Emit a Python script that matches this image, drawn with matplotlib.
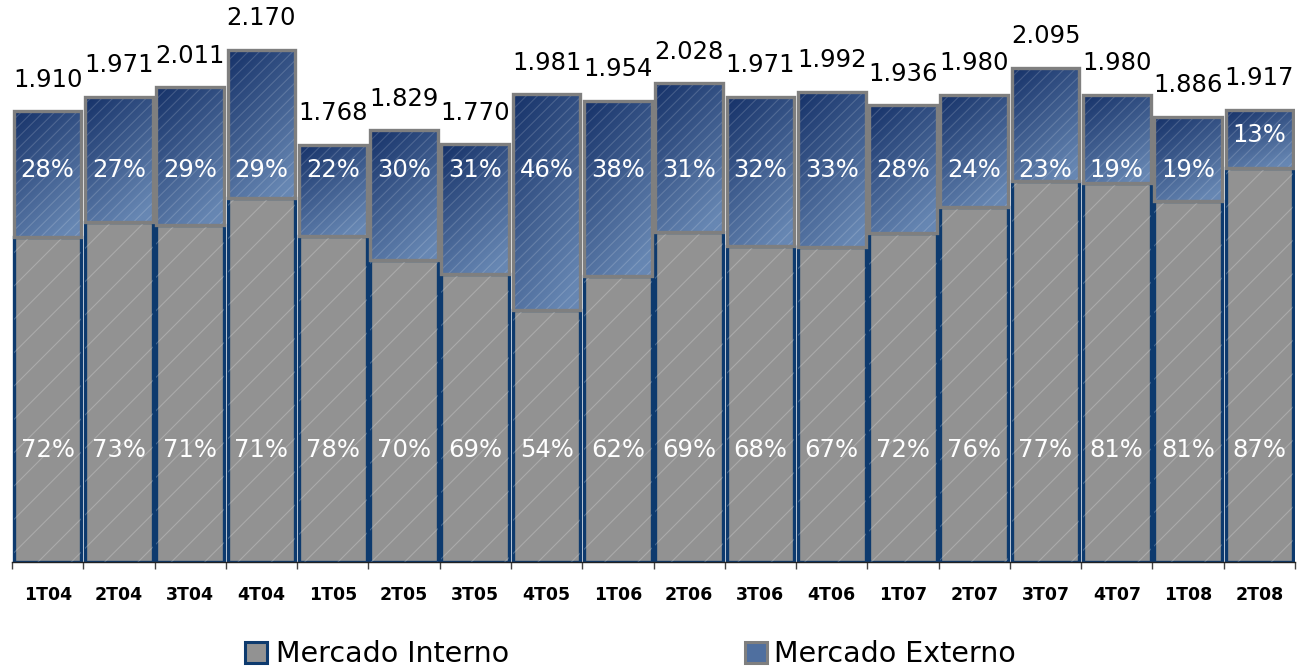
import numpy as np
import matplotlib
matplotlib.use("Agg")
import matplotlib.pyplot as plt
from matplotlib.patches import Rectangle
from matplotlib.colors import to_rgb

categories = ["1T04", "2T04", "3T04", "4T04", "1T05", "2T05", "3T05", "4T05", "1T06",
              "2T06", "3T06", "4T06", "1T07", "2T07", "3T07", "4T07", "1T08", "2T08"]
totals = [1910, 1971, 2011, 2170, 1768, 1829, 1770, 1981, 1954,
          2028, 1971, 1992, 1936, 1980, 2095, 1980, 1886, 1917]
interno_pct = [72, 73, 71, 71, 78, 70, 69, 54, 62, 69, 68, 67, 72, 76, 77, 81, 81, 87]
externo_pct = [28, 27, 29, 29, 22, 30, 31, 46, 38, 31, 32, 33, 28, 24, 23, 19, 19, 13]
legend_labels = ["Mercado Interno", "Mercado Externo"]

plt.rcParams['hatch.linewidth'] = 0.8

W, H = 1301, 666
fig = plt.figure(figsize=(W / 100, H / 100), dpi=100)
ax = fig.add_axes([12 / W, 104 / H, 1283 / W, 562 / H])
ymax = 2381
ax.set_xlim(-0.5, len(categories) - 0.5)
ax.set_ylim(0, ymax)

gray_fill = "#929292"
navy = "#0d3a6e"
edge_gray = "#7f7f7f"
dark_blue = np.array(to_rgb("#163269"))
light_blue = np.array(to_rgb("#6787b3"))
bw = 0.95

x = np.arange(len(categories))
tot = np.array(totals, dtype=float)
intv = tot * np.array(interno_pct) / 100.0

# interno bars
ax.bar(x, intv, width=bw, color=gray_fill, edgecolor=navy, linewidth=2.4, zorder=2)
ax.bar(x, intv, width=bw, fill=False, hatch='/', edgecolor=(1, 1, 1, 0.22), linewidth=0, zorder=3)

# externo bars with gradient
gy, gx = np.mgrid[0:1:60j, 0:1:20j]
t = np.clip(0.75 * gy + 0.35 * gx, 0, 1)[..., None]
grad = dark_blue * (1 - t) + light_blue * t
for i in range(len(categories)):
    x0, x1 = x[i] - bw / 2, x[i] + bw / 2
    y0, y1 = intv[i], tot[i]
    clip = Rectangle((x0, y0), bw, y1 - y0, transform=ax.transData, fill=False, lw=0)
    ax.add_patch(clip)
    im = ax.imshow(grad, extent=[x0, x1, y0, y1], origin='upper', aspect='auto',
                   zorder=4, interpolation='bilinear')
    im.set_clip_path(clip)
    ax.add_patch(Rectangle((x0, y0), bw, y1 - y0, fill=False, hatch='///',
                           edgecolor=(1, 1, 1, 0.16), lw=0, zorder=5))
    ax.add_patch(Rectangle((x0, y0), bw, y1 - y0, fill=False,
                           edgecolor=edge_gray, lw=2.4, zorder=6))
ax.set_xlim(-0.5, len(categories) - 0.5)
ax.set_ylim(0, ymax)
ax.set_aspect('auto')

# labels
for i in range(len(categories)):
    ax.annotate(f"{totals[i]:,}".replace(",", "."), (x[i], tot[i]), xytext=(0, 14),
                textcoords='offset points', ha='center', va='bottom', fontsize=17.5,
                color='black', zorder=8)
    ax.text(x[i], 475, f"{interno_pct[i]}%", ha='center', va='center', fontsize=17.5,
            color='white', zorder=8)
    ye = 1661
    if ye < intv[i] + 20:
        ye = (intv[i] + tot[i]) / 2 + 15
    ax.text(x[i], ye, f"{externo_pct[i]}%", ha='center', va='center', fontsize=17.5,
            color='white', zorder=8)

for s in ['top', 'right', 'left']:
    ax.spines[s].set_visible(False)
ax.spines['bottom'].set_color('#222222')
ax.spines['bottom'].set_linewidth(1.0)
ax.spines['bottom'].set_zorder(7)
ax.set_yticks([])
ax.set_xticks(x)
ax.set_xticklabels(categories, fontsize=12.5, fontweight='bold')
ax.tick_params(axis='x', which='major', length=0, pad=17)
ax.set_xticks(np.arange(-0.5, len(categories), 1.0), minor=True)
ax.tick_params(axis='x', which='minor', length=5, width=1, color='#444444', direction='out')

# legend
def add_handle(px, face, edge):
    fig.add_artist(Rectangle((px / W, 3 / H), 22 / W, 21 / H, transform=fig.transFigure,
                             facecolor=face, edgecolor=edge, lw=2.2))
add_handle(245, gray_fill, navy)
fig.text(276 / W, 4 / H, legend_labels[0], ha='left', va='baseline', fontsize=20.5)
add_handle(745, "#4f6f9f", edge_gray)
fig.text(774 / W, 4 / H, legend_labels[1], ha='left', va='baseline', fontsize=20.5)

fig.savefig("out.png", dpi=100)
